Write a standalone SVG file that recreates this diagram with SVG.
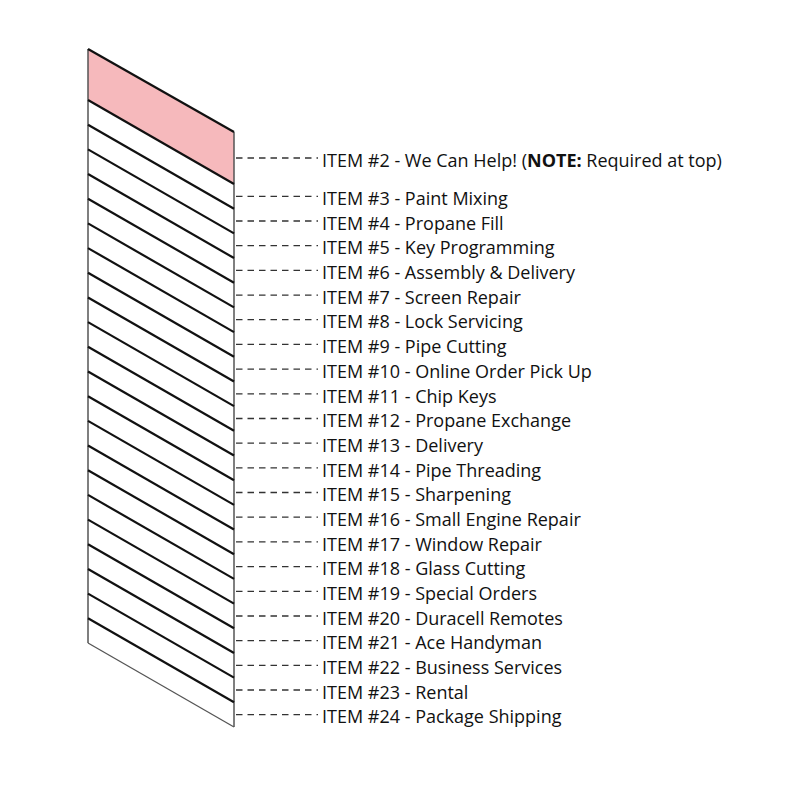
<svg xmlns="http://www.w3.org/2000/svg" width="800" height="800" viewBox="0 0 800 800">
<style>
.edge{stroke:#555;stroke-width:1.5;fill:none}
.sl{stroke:#111;stroke-width:2.2;fill:none}
.thin{stroke:#555;stroke-width:1.3;fill:none}
.dash{stroke:#333;stroke-width:1.3;stroke-dasharray:6.5 5;fill:none}
.lbl{font-family:"Open Sans","Liberation Sans",sans-serif;font-size:18px;fill:#111}
</style>
<rect width="800" height="800" fill="#fff"/>
<g id="strip">
<polygon points="88,49 234,132 234,184 88,100" fill="#f6b9bc"/>
<line class="edge" x1="88" y1="49" x2="88" y2="643"/>
<line class="edge" x1="234" y1="132" x2="234" y2="727"/>
<line class="sl" x1="88" y1="49" x2="234" y2="132"/>
<line class="sl" x1="88" y1="100" x2="234" y2="184"/>
<line class="sl" x1="88" y1="124.68" x2="234" y2="208.68"/>
<line class="sl" x1="88" y1="149.36" x2="234" y2="233.36"/>
<line class="sl" x1="88" y1="174.05" x2="234" y2="258.05"/>
<line class="sl" x1="88" y1="198.73" x2="234" y2="282.73"/>
<line class="sl" x1="88" y1="223.41" x2="234" y2="307.41"/>
<line class="sl" x1="88" y1="248.09" x2="234" y2="332.09"/>
<line class="sl" x1="88" y1="272.77" x2="234" y2="356.77"/>
<line class="sl" x1="88" y1="297.45" x2="234" y2="381.45"/>
<line class="sl" x1="88" y1="322.14" x2="234" y2="406.14"/>
<line class="sl" x1="88" y1="346.82" x2="234" y2="430.82"/>
<line class="sl" x1="88" y1="371.5" x2="234" y2="455.5"/>
<line class="sl" x1="88" y1="396.18" x2="234" y2="480.18"/>
<line class="sl" x1="88" y1="420.86" x2="234" y2="504.86"/>
<line class="sl" x1="88" y1="445.55" x2="234" y2="529.55"/>
<line class="sl" x1="88" y1="470.23" x2="234" y2="554.23"/>
<line class="sl" x1="88" y1="494.91" x2="234" y2="578.91"/>
<line class="sl" x1="88" y1="519.59" x2="234" y2="603.59"/>
<line class="sl" x1="88" y1="544.27" x2="234" y2="628.27"/>
<line class="sl" x1="88" y1="568.95" x2="234" y2="652.95"/>
<line class="sl" x1="88" y1="593.64" x2="234" y2="677.64"/>
<line class="sl" x1="88" y1="618.32" x2="234" y2="702.32"/>
<line class="thin" x1="88" y1="643" x2="234" y2="727"/>
</g>
<g id="connectors">
<line class="dash" x1="236" y1="158" x2="318" y2="158"/>
<line class="dash" x1="236" y1="196.3" x2="318" y2="196.3"/>
<line class="dash" x1="236" y1="221" x2="318" y2="221"/>
<line class="dash" x1="236" y1="245.7" x2="318" y2="245.7"/>
<line class="dash" x1="236" y1="270.4" x2="318" y2="270.4"/>
<line class="dash" x1="236" y1="295.1" x2="318" y2="295.1"/>
<line class="dash" x1="236" y1="319.7" x2="318" y2="319.7"/>
<line class="dash" x1="236" y1="344.4" x2="318" y2="344.4"/>
<line class="dash" x1="236" y1="369.1" x2="318" y2="369.1"/>
<line class="dash" x1="236" y1="393.8" x2="318" y2="393.8"/>
<line class="dash" x1="236" y1="418.5" x2="318" y2="418.5"/>
<line class="dash" x1="236" y1="443.2" x2="318" y2="443.2"/>
<line class="dash" x1="236" y1="467.8" x2="318" y2="467.8"/>
<line class="dash" x1="236" y1="492.5" x2="318" y2="492.5"/>
<line class="dash" x1="236" y1="517.2" x2="318" y2="517.2"/>
<line class="dash" x1="236" y1="541.9" x2="318" y2="541.9"/>
<line class="dash" x1="236" y1="566.6" x2="318" y2="566.6"/>
<line class="dash" x1="236" y1="591.3" x2="318" y2="591.3"/>
<line class="dash" x1="236" y1="616" x2="318" y2="616"/>
<line class="dash" x1="236" y1="640.6" x2="318" y2="640.6"/>
<line class="dash" x1="236" y1="665.3" x2="318" y2="665.3"/>
<line class="dash" x1="236" y1="690" x2="318" y2="690"/>
<line class="dash" x1="236" y1="714.7" x2="318" y2="714.7"/>
</g>
<g id="item2"><text class="lbl" x="322" y="166.5">ITEM #2 - We Can Help! (<tspan font-weight="bold">NOTE:</tspan> Required at top)</text></g>
<g id="item3"><text class="lbl" x="322" y="205">ITEM #3 - Paint Mixing</text></g>
<g id="item4"><text class="lbl" x="322" y="229.7">ITEM #4 - Propane Fill</text></g>
<g id="item5"><text class="lbl" x="322" y="254.4">ITEM #5 - Key Programming</text></g>
<g id="item6"><text class="lbl" x="322" y="279.1">ITEM #6 - Assembly &amp; Delivery</text></g>
<g id="item7"><text class="lbl" x="322" y="303.8">ITEM #7 - Screen Repair</text></g>
<g id="item8"><text class="lbl" x="322" y="328.4">ITEM #8 - Lock Servicing</text></g>
<g id="item9"><text class="lbl" x="322" y="353.1">ITEM #9 - Pipe Cutting</text></g>
<g id="item10"><text class="lbl" x="322" y="377.8">ITEM #10 - Online Order Pick Up</text></g>
<g id="item11"><text class="lbl" x="322" y="402.5">ITEM #11 - Chip Keys</text></g>
<g id="item12"><text class="lbl" x="322" y="427.2">ITEM #12 - Propane Exchange</text></g>
<g id="item13"><text class="lbl" x="322" y="451.9">ITEM #13 - Delivery</text></g>
<g id="item14"><text class="lbl" x="322" y="476.5">ITEM #14 - Pipe Threading</text></g>
<g id="item15"><text class="lbl" x="322" y="501.2">ITEM #15 - Sharpening</text></g>
<g id="item16"><text class="lbl" x="322" y="525.9">ITEM #16 - Small Engine Repair</text></g>
<g id="item17"><text class="lbl" x="322" y="550.6">ITEM #17 - Window Repair</text></g>
<g id="item18"><text class="lbl" x="322" y="575.3">ITEM #18 - Glass Cutting</text></g>
<g id="item19"><text class="lbl" x="322" y="600">ITEM #19 - Special Orders</text></g>
<g id="item20"><text class="lbl" x="322" y="624.7">ITEM #20 - Duracell Remotes</text></g>
<g id="item21"><text class="lbl" x="322" y="649.3">ITEM #21 - Ace Handyman</text></g>
<g id="item22"><text class="lbl" x="322" y="674">ITEM #22 - Business Services</text></g>
<g id="item23"><text class="lbl" x="322" y="698.7">ITEM #23 - Rental</text></g>
<g id="item24"><text class="lbl" x="322" y="723.4">ITEM #24 - Package Shipping</text></g>
</svg>
